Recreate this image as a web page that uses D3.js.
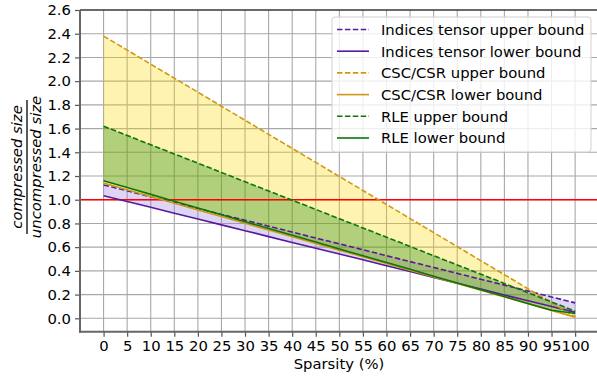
<!DOCTYPE html>
<html>
<head>
<meta charset="utf-8">
<script src="https://cdn.jsdelivr.net/npm/d3@7"></script>
<style>
  body { margin: 0; background: #fff; }
  text { font-family: "DejaVu Sans", sans-serif; fill: #000; }
</style>
</head>
<body>
<script>
// sparsity levels (%)
var sparsity = [0, 5, 10, 15, 20, 25, 30, 35, 40, 45, 50, 55, 60, 65, 70, 75, 80, 85, 90, 95, 100];

// compressed / uncompressed size
var indicesUpper = [1.125, 1.075, 1.025, 0.976, 0.926, 0.876, 0.827, 0.777, 0.727, 0.677, 0.628,
                    0.578, 0.528, 0.478, 0.429, 0.379, 0.329, 0.280, 0.230, 0.180, 0.130];
var indicesLower = [1.034, 0.985, 0.937, 0.886, 0.837, 0.788, 0.739, 0.689, 0.640, 0.591, 0.542,
                    0.493, 0.443, 0.394, 0.345, 0.296, 0.247, 0.197, 0.148, 0.099, 0.050];
var cscUpper = [2.380, 2.262, 2.143, 2.025, 1.907, 1.788, 1.670, 1.551, 1.433, 1.315, 1.196,
                1.078, 0.960, 0.841, 0.723, 0.605, 0.486, 0.368, 0.249, 0.131, 0.013];
var cscLower = [1.140, 1.084, 1.027, 0.971, 0.914, 0.858, 0.801, 0.745, 0.688, 0.632, 0.575,
                0.519, 0.462, 0.406, 0.349, 0.293, 0.236, 0.180, 0.123, 0.067, 0.010];
var rleUpper = [1.620, 1.542, 1.464, 1.386, 1.308, 1.230, 1.152, 1.074, 0.996, 0.918, 0.840,
                0.762, 0.684, 0.606, 0.528, 0.450, 0.372, 0.294, 0.216, 0.138, 0.060];
var rleLower = [1.160, 1.103, 1.045, 0.988, 0.930, 0.873, 0.815, 0.758, 0.700, 0.643, 0.585,
                0.528, 0.470, 0.413, 0.355, 0.298, 0.240, 0.183, 0.125, 0.068, 0.040];

var xTicks = sparsity;
var yTicks = [0.0, 0.2, 0.4, 0.6, 0.8, 1.0, 1.2, 1.4, 1.6, 1.8, 2.0, 2.2, 2.4, 2.6];
var threshold = 1.0;

var purple = "#561a9c", gold = "#cf9a12", green = "#0b760b";

var series = [
    {name: "Indices tensor upper bound", values: indicesUpper, color: purple, dash: "5.5,2.4"},
    {name: "Indices tensor lower bound", values: indicesLower, color: purple, dash: null},
    {name: "CSC/CSR upper bound", values: cscUpper, color: gold, dash: "5.5,2.4"},
    {name: "CSC/CSR lower bound", values: cscLower, color: gold, dash: null},
    {name: "RLE upper bound", values: rleUpper, color: green, dash: "5.5,2.4"},
    {name: "RLE lower bound", values: rleLower, color: green, dash: null}
];

var bands = [
    {upper: indicesUpper, lower: indicesLower, fill: "#9370db", opacity: 0.3},
    {upper: cscUpper, lower: cscLower, fill: "#ffd700", opacity: 0.3},
    {upper: rleUpper, lower: rleLower, fill: "#008000", opacity: 0.3}
];

var fontSize = "14.8px";

var width = 597, height = 378;
var svg = d3.select("body").append("svg")
    .attr("width", width)
    .attr("height", height);

var x = d3.scaleLinear().domain([-5, 105]).range([80, 598.7]);
var y = d3.scaleLinear().domain([-0.113, 2.6]).range([331.7, 10]);

svg.append("clipPath").attr("id", "plot")
    .append("rect")
    .attr("x", 80).attr("y", 10)
    .attr("width", 518.7).attr("height", 321.7);

// grid
var grid = svg.append("g").attr("stroke", "#a8a8a8").attr("stroke-width", 1.1);
grid.selectAll(".vx").data(xTicks).enter().append("line")
    .attr("x1", function (d) { return x(d); })
    .attr("x2", function (d) { return x(d); })
    .attr("y1", 10).attr("y2", 331.7);
grid.selectAll(".hy").data(yTicks).enter().append("line")
    .attr("y1", function (d) { return y(d); })
    .attr("y2", function (d) { return y(d); })
    .attr("x1", 80).attr("x2", 598.7);

var plot = svg.append("g").attr("clip-path", "url(#plot)");

// shaded bands between the bounds
bands.forEach(function (b) {
    var area = d3.area()
        .x(function (d, i) { return x(sparsity[i]); })
        .y0(function (d, i) { return y(b.lower[i]); })
        .y1(function (d, i) { return y(b.upper[i]); });
    plot.append("path")
        .datum(sparsity)
        .attr("d", area)
        .attr("fill", b.fill)
        .attr("fill-opacity", b.opacity);
});

// threshold line
plot.append("line")
    .attr("x1", 80).attr("x2", 598.7)
    .attr("y1", y(threshold)).attr("y2", y(threshold))
    .attr("stroke", "#ff0000")
    .attr("stroke-width", 1.5);

// bound lines
series.forEach(function (s) {
    var line = d3.line()
        .x(function (d, i) { return x(sparsity[i]); })
        .y(function (d) { return y(d); });
    plot.append("path")
        .datum(s.values)
        .attr("d", line)
        .attr("fill", "none")
        .attr("stroke", s.color)
        .attr("stroke-width", 1.6)
        .attr("stroke-dasharray", s.dash);
});

// axes
var xAxis = svg.append("g")
    .attr("transform", "translate(0,331.7)")
    .call(d3.axisBottom(x).tickValues(xTicks).tickSize(5).tickPadding(4)
        .tickFormat(d3.format("d")));
var yAxis = svg.append("g")
    .attr("transform", "translate(80,0)")
    .call(d3.axisLeft(y).tickValues(yTicks).tickSize(5).tickPadding(4)
        .tickFormat(d3.format(".1f")));

[xAxis, yAxis].forEach(function (a) {
    a.select(".domain").remove();
    a.selectAll(".tick line").attr("stroke", "#555").attr("stroke-width", 1.2);
    a.selectAll(".tick text")
        .style("font-family", "DejaVu Sans")
        .style("font-size", fontSize)
        .attr("fill", "#111");
});

// spines
svg.append("line").attr("x1", 80).attr("x2", 598.7).attr("y1", 10).attr("y2", 10)
    .attr("stroke", "#000").attr("stroke-width", 1.2);
svg.append("line").attr("x1", 80).attr("x2", 80).attr("y1", 10).attr("y2", 332.7)
    .attr("stroke", "#666").attr("stroke-width", 2);
svg.append("line").attr("x1", 79).attr("x2", 598.7).attr("y1", 331.7).attr("y2", 331.7)
    .attr("stroke", "#666").attr("stroke-width", 2);

// axis labels
svg.append("text")
    .attr("x", 339).attr("y", 369)
    .attr("text-anchor", "middle")
    .style("font-size", fontSize)
    .text("Sparsity (%)");

var ylab = svg.append("g").attr("transform", "translate(27,167) rotate(-90)");
ylab.append("text")
    .attr("x", 0).attr("y", -5)
    .attr("text-anchor", "middle")
    .style("font-size", fontSize)
    .style("font-style", "italic")
    .text("compressed size");
ylab.append("line")
    .attr("x1", -67).attr("x2", 67).attr("y1", 0).attr("y2", 0)
    .attr("stroke", "#000").attr("stroke-width", 1.3);
ylab.append("text")
    .attr("x", 0).attr("y", 14)
    .attr("text-anchor", "middle")
    .style("font-size", fontSize)
    .style("font-style", "italic")
    .text("uncompressed size");

// legend
var legend = svg.append("g");
legend.append("rect")
    .attr("x", 332).attr("y", 17)
    .attr("width", 259).attr("height", 135)
    .attr("rx", 3)
    .attr("fill", "#fff").attr("fill-opacity", 0.8)
    .attr("stroke", "#d0d0d0");
var item = legend.selectAll(".item").data(series).enter().append("g")
    .attr("transform", function (d, i) { return "translate(0," + (29.5 + i * 21.7) + ")"; });
item.append("line")
    .attr("x1", 337).attr("x2", 369)
    .attr("stroke", function (d) { return d.color; })
    .attr("stroke-width", 1.6)
    .attr("stroke-dasharray", function (d) { return d.dash; });
item.append("text")
    .attr("x", 381).attr("dy", "0.36em")
    .style("font-size", fontSize)
    .text(function (d) { return d.name; });
</script>
</body>
</html>
